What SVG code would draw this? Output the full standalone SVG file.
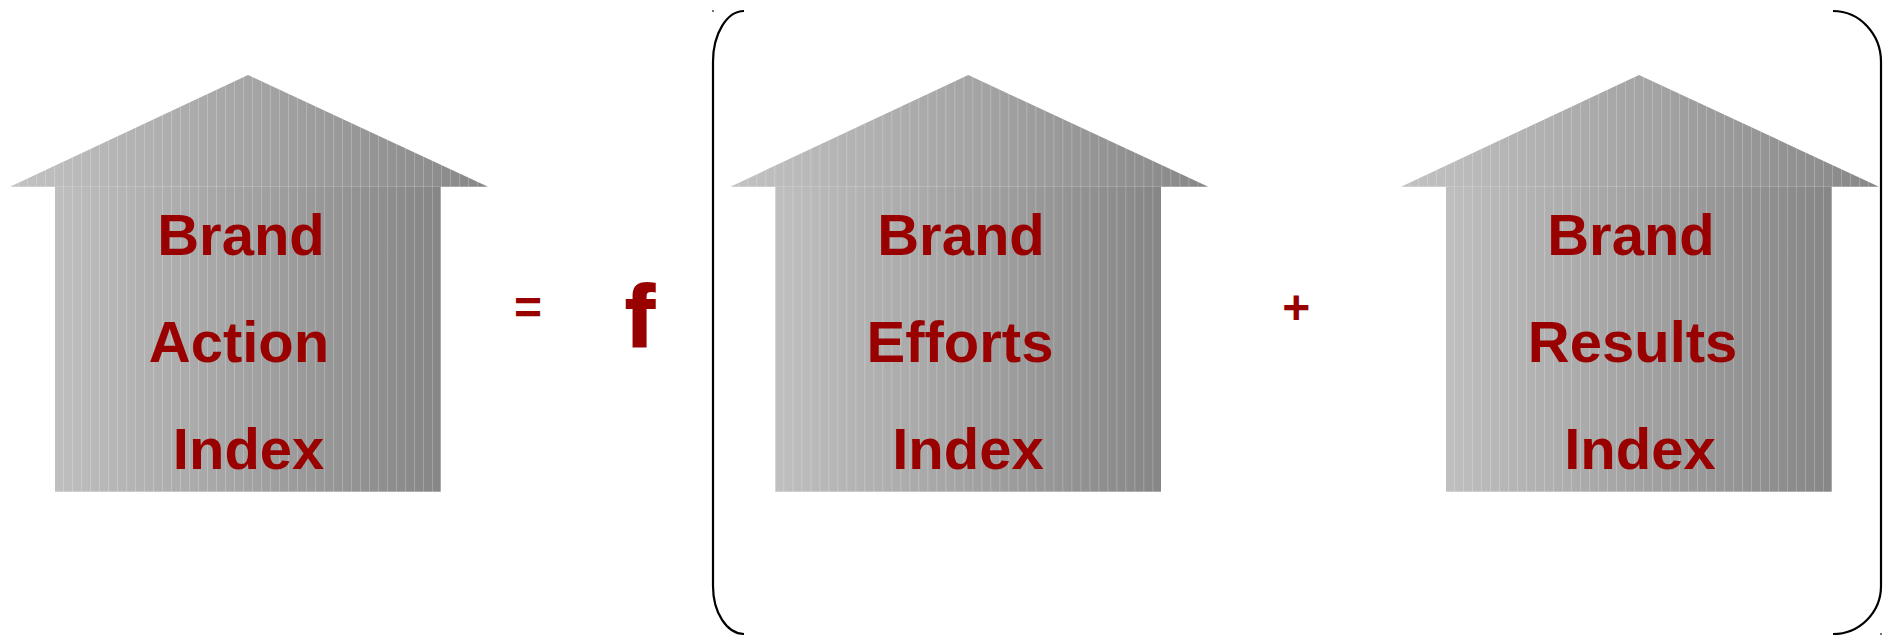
<svg xmlns="http://www.w3.org/2000/svg" width="1892" height="636" viewBox="0 0 1892 636">
<defs>
<linearGradient id="gBody" x1="0" y1="0" x2="1" y2="0">
<stop offset="0" stop-color="#bfbfbf"/>
<stop offset="1" stop-color="#868686"/>
</linearGradient>
<linearGradient id="gRoof" x1="0" y1="0" x2="1" y2="0">
<stop offset="0" stop-color="#c2c2c2"/>
<stop offset="1" stop-color="#878787"/>
</linearGradient>
<pattern id="stripes" x="0" y="0" width="9" height="10" patternUnits="userSpaceOnUse">
<rect x="0" y="0" width="1" height="10" fill="#ffffff" fill-opacity="0.22"/>
</pattern>
<g id="house">
<polygon points="10,186.7 248,75 488,186.7" fill="url(#gRoof)"/>
<polygon points="10,186.7 248,75 488,186.7" fill="url(#stripes)"/>
<rect x="55" y="186.7" width="385.7" height="305" fill="url(#gBody)"/>
<rect x="55" y="186.7" width="385.7" height="305" fill="url(#stripes)"/>
</g>
</defs>
<style>
.lbl{font-family:"Liberation Sans",Arial,sans-serif;font-weight:bold;font-size:58px;fill:#990000;text-anchor:middle}
.op{font-family:"Liberation Sans",Arial,sans-serif;font-weight:bold;fill:#990000;text-anchor:middle}
.br{fill:none;stroke:#000;stroke-width:2.2}
</style>
<g id="node-action">
<use href="#house"/>
<text class="lbl" x="241" y="255">Brand</text>
<text class="lbl" x="239" y="361.7">Action</text>
<text class="lbl" x="248.6" y="469.3">Index</text>
</g>
<g id="node-efforts">
<use href="#house" transform="translate(720.3,0)"/>
<text class="lbl" x="961" y="255">Brand</text>
<text class="lbl" x="960" y="361.7">Efforts</text>
<text class="lbl" x="968" y="469.3">Index</text>
</g>
<g id="node-results">
<use href="#house" transform="translate(1391,0)"/>
<text class="lbl" x="1631" y="255">Brand</text>
<text class="lbl" x="1632.6" y="361.7">Results</text>
<text class="lbl" x="1640" y="469.3">Index</text>
</g>
<g id="operators">
<text class="op" x="528" y="324" font-size="48">=</text>
<text class="op" x="640" y="346" font-size="88" stroke="#990000" stroke-width="2">f</text>
<text class="op" x="1296.3" y="324" font-size="48">+</text>
</g>
<g id="connectors">
<path class="br" d="M744,11 A31,51 0 0 0 713,62 L713,586 A31,48 0 0 0 744,634"/>
<path class="br" d="M1833,11 A48,51 0 0 1 1881,62 L1881,586 A48,48 0 0 1 1833,634"/>
<circle cx="713" cy="11" r="0.9" fill="#333"/>
<circle cx="1881" cy="634" r="0.9" fill="#333"/>
</g>
</svg>
